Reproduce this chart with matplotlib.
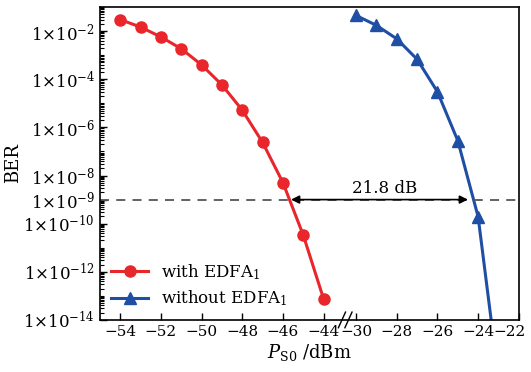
import numpy as np
import matplotlib.pyplot as plt
import matplotlib.transforms as mtransforms
from matplotlib.ticker import FixedLocator, LogLocator, NullFormatter

plt.rcParams['font.family'] = ['DejaVu Serif']
plt.rcParams['mathtext.fontset'] = 'dejavuserif'
plt.rcParams['font.size'] = 11

p_with = [-54, -53, -52, -51, -50, -49, -48, -47, -46, -45, -44]
logber_with = [-1.52, -1.83, -2.24, -2.73, -3.40, -4.23, -5.28, -6.62, -8.29, -10.47, -13.12]

p_without = [-30, -29, -28, -27, -26, -25, -24, -23]
logber_without = [-1.35, -1.76, -2.32, -3.17, -4.52, -6.55, -9.71, -16.4]

xticks = [-54, -52, -50, -48, -46, -44, -30, -28, -26, -24, -22]
yticks_labeled = [-2, -4, -6, -8, -9, -10, -12, -14]

ber_with = 10.0 ** np.array(logber_with)
ber_without = 10.0 ** np.array(logber_without)

# gebrochene x-Achse: Luecke zwischen -44 und -30
shift = 12.4
def fwd(x):
    x = np.asarray(x, dtype=float)
    return np.where(x > -37, x - shift, x)

def inv(u):
    u = np.asarray(u, dtype=float)
    return np.where(u > -43.2, u + shift, u)

fig = plt.figure(figsize=(5.31, 3.72), dpi=100)
ax = fig.add_axes([0.188, 0.140, 0.789, 0.841])
ax.set_xscale('function', functions=(fwd, inv))
ax.set_yscale('log')

red = '#e8262b'
blue = '#1f4fa5'
ax.plot(p_with, ber_with, '-o', color=red, lw=2.2, ms=8, label=r'with EDFA$_\mathregular{1}$')
ax.plot(p_without, ber_without, '-^', color=blue, lw=2.2, ms=8, label=r'without EDFA$_\mathregular{1}$')

ax.axhline(1e-9, color='#555555', lw=1.3, ls=(0, (5, 4)))
ax.annotate('', xy=(-45.6, 1e-9), xytext=(-24.5, 1e-9),
            arrowprops=dict(arrowstyle='<|-|>', color='black', lw=1.2,
                            shrinkA=0, shrinkB=0, mutation_scale=12))
ax.text(-28.6, 10 ** -8.55, '21.8 dB', ha='center', va='center', fontsize=12)

ax.set_xlim(-55, -22)
ax.set_ylim(1e-14, 1e-1)

ax.xaxis.set_major_locator(FixedLocator(xticks))
ax.set_xticklabels(['\u2212%d' % abs(t) for t in xticks])
ax.xaxis.set_minor_locator(FixedLocator([]))

ax.yaxis.set_major_locator(FixedLocator([10.0 ** k for k in yticks_labeled]))
ax.set_yticklabels([r'$1{\times}10^{%d}$' % k for k in yticks_labeled])
ax.yaxis.set_minor_locator(LogLocator(base=10, subs=np.arange(1, 10), numticks=100))
ax.yaxis.set_minor_formatter(NullFormatter())

ax.tick_params(which='both', direction='in', top=False, right=False)
ax.tick_params(axis='x', labelsize=11)
ax.tick_params(axis='y', labelsize=12)
ax.tick_params(which='major', length=5, width=1)
ax.tick_params(which='minor', length=3, width=0.8)
for s in ax.spines.values():
    s.set_linewidth(1.2)

# letztes Label etwas nach links, damit es ins Bild passt
last = ax.get_xticklabels()[-1]
last.set_transform(last.get_transform() +
                   mtransforms.ScaledTranslation(-7 / 72, 0, fig.dpi_scale_trans))

# Bruchzeichen
trans = ax.get_xaxis_transform()
for dx in (0.1, 0.42):
    ax.plot([-43.37 + dx, -43.02 + dx], [-0.025, 0.025], transform=trans,
            color='black', lw=1, clip_on=False)

ax.set_ylabel('BER', fontsize=13)
ax.yaxis.set_label_coords(-0.185, 0.5)
ax.set_xlabel(r'$P_{\mathregular{S0}}$ /dBm', fontsize=13, labelpad=2)

ax.legend(loc='lower left', frameon=False, fontsize=12, handlelength=2.2,
          borderaxespad=0.3, labelspacing=0.4, bbox_to_anchor=(0.0, 0.0))

fig.savefig('out.png', dpi=100)
